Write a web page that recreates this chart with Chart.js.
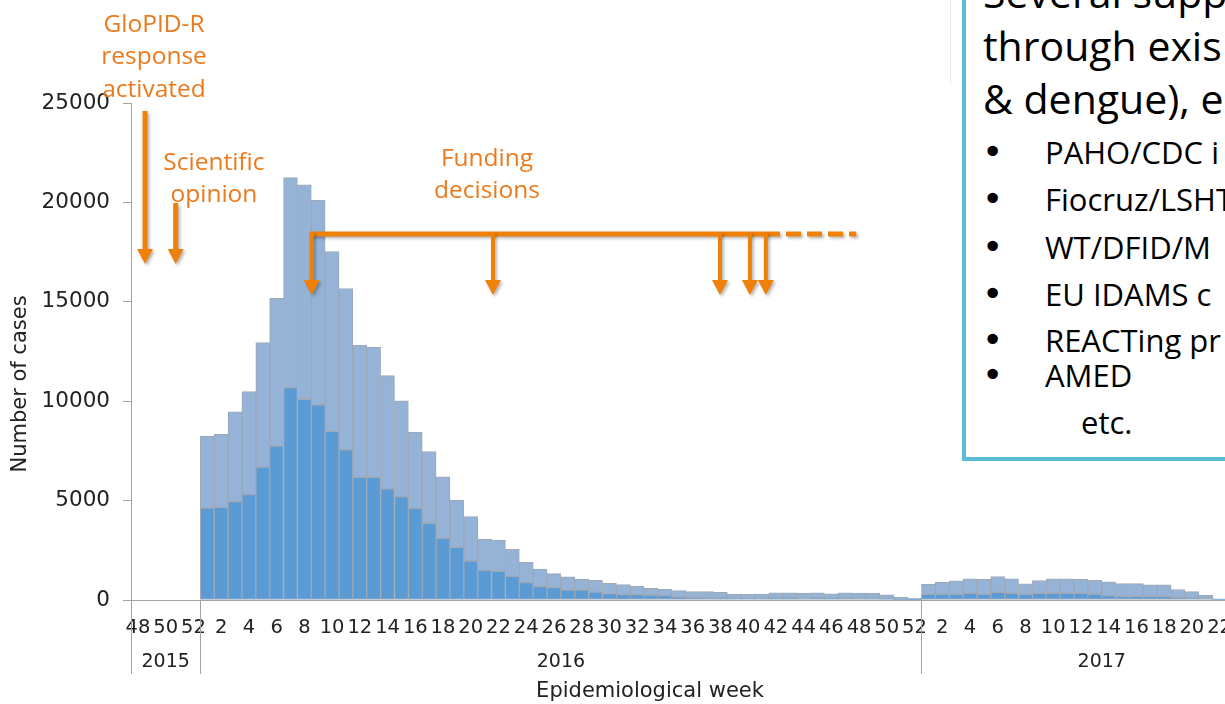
<!DOCTYPE html>
<html>
<head>
<meta charset="utf-8">
<title>Cases by epidemiological week</title>
<script src="https://cdn.jsdelivr.net/npm/chart.js@4.4.1/dist/chart.umd.min.js"></script>
<style>
  html, body { margin: 0; padding: 0; background: #fff; overflow: hidden; }
  #page { position: relative; width: 1225px; height: 704px; overflow: hidden; }
  #cases { position: absolute; left: 0; top: 0; }
  .dots { position: absolute; left: 950px; top: 0; height: 83px; border-left: 1px dotted #c6e0ea; }
  .note { position: absolute; left: 962px; top: -30px; width: 420px; height: 483px;
    border: 4px solid #5bbcd6; background: #fff; font-family: 'Open Sans', sans-serif; color: #000; }
  .note div { position: absolute; white-space: nowrap; line-height: 1; }
  .big { font-size: 41px; }
  .item { font-size: 31px; }
  .note .dot { font-family: 'DejaVu Sans', sans-serif; font-size: 36px; }
</style>
</head>
<body>
<div id="page">
  <canvas id="cases" width="1300" height="704"></canvas>
  <div class="dots"></div>
  <div class="note">
    <div class="big" style="left:17px;top:-2px">Several supp</div>
    <div class="big" style="left:17px;top:51px">through exis</div>
    <div class="big" style="left:17px;top:104px">&amp; dengue), e</div>
    <div class="item dot" style="left:16px;top:160px">•</div>
    <div class="item" style="left:79px;top:163px">PAHO/CDC i</div>
    <div class="item dot" style="left:16px;top:207px">•</div>
    <div class="item" style="left:79px;top:210px">Fiocruz/LSHT</div>
    <div class="item dot" style="left:16px;top:255px">•</div>
    <div class="item" style="left:79px;top:258px">WT/DFID/M</div>
    <div class="item dot" style="left:16px;top:302px">•</div>
    <div class="item" style="left:79px;top:305px">EU IDAMS c</div>
    <div class="item dot" style="left:16px;top:348px">•</div>
    <div class="item" style="left:79px;top:351px">REACTing pr</div>
    <div class="item dot" style="left:16px;top:383px">•</div>
    <div class="item" style="left:79px;top:386px">AMED</div>
    <div class="item" style="left:115px;top:433px">etc.</div>
  </div>
</div>
<script>
var weeks2015 = [48, 49, 50, 51, 52];
var weeks2016 = [1, 2, 3, 4, 5, 6, 7, 8, 9, 10, 11, 12, 13, 14, 15, 16, 17, 18, 19, 20,
  21, 22, 23, 24, 25, 26, 27, 28, 29, 30, 31, 32, 33, 34, 35, 36, 37, 38, 39, 40,
  41, 42, 43, 44, 45, 46, 47, 48, 49, 50, 51, 52];
var weeks2017 = [1, 2, 3, 4, 5, 6, 7, 8, 9, 10, 11, 12, 13, 14, 15, 16, 17, 18, 19, 20,
  21, 22, 23, 24, 25, 26];

// dark blue part of each bar
var confirmed2015 = [null, null, null, null, null];
var confirmed2016 = [4620, 4660, 4950, 5300, 6690, 7740, 10680, 10100, 9820, 8480,
  7560, 6170, 6170, 5590, 5200, 4610, 3860, 3100, 2650, 1960,
  1490, 1440, 1190, 870, 670, 620, 500, 500, 400, 320,
  270, 270, 250, 220, 150, 130, 120, 110, 90, 90,
  100, 110, 110, 100, 110, 80, 100, 100, 100, 60, 30, 20];
var confirmed2017 = [290, 290, 290, 340, 290, 390, 340, 290, 340, 340,
  340, 340, 290, 220, 170, 170, 170, 170, 130, 120,
  100, 30, null, null, null, null];

// light blue part stacked on top
var suspected2015 = [null, null, null, null, null];
var suspected2016 = [3630, 3670, 4510, 5180, 6260, 7430, 10570, 10780, 10280, 9050,
  8110, 6650, 6550, 5700, 4820, 3820, 3610, 3100, 2380, 2230,
  1580, 1570, 1360, 1030, 890, 710, 660, 550, 590, 520,
  500, 430, 340, 320, 320, 290, 300, 270, 210, 200,
  200, 250, 250, 250, 250, 230, 260, 250, 250, 200, 120, 60];
var suspected2017 = [500, 600, 670, 720, 750, 790, 720, 520, 640, 720,
  720, 700, 700, 700, 650, 650, 590, 590, 400, 300,
  150, 30, null, null, null, null];

var yTicks = [0, 5000, 10000, 15000, 20000, 25000];

var years = [
  {label: '2015', weeks: weeks2015},
  {label: '2016', weeks: weeks2016},
  {label: '2017', weeks: weeks2017}
];

// annotations, placed in category index / case count units
var arrows = [
  {at: 0.51, from: 24500, to: 16900, lw: 5},
  {at: 2.72, from: 19870, to: 16900, lw: 5},
  {at: 12.53, from: 18410, to: 15340, lw: 4},
  {at: 25.6, from: 18410, to: 15340, lw: 4},
  {at: 41.97, from: 18410, to: 15340, lw: 4},
  {at: 44.13, from: 18410, to: 15340, lw: 4},
  {at: 45.28, from: 18410, to: 15340, lw: 4}
];
var fundingLine = {from: 12.53, solidTo: 46.3, dashedTo: 51.8, level: 18410};
var notes = [
  {lines: ['GloPID-R', 'response', 'activated'], at: 1.16, levels: [28570, 26940, 25300]},
  {lines: ['Scientific', 'opinion'], at: 5.48, levels: [21630, 20020]},
  {lines: ['Funding', 'decisions'], at: 25.17, levels: [21830, 20220]}
];

var labels = weeks2015.concat(weeks2016, weeks2017).map(String),
  confirmed = confirmed2015.concat(confirmed2016, confirmed2017),
  suspected = suspected2015.concat(suspected2016, suspected2017);

var ORANGE = '#ef8008';
var GREY = '#a3a3a3';
var INK = '#222';
var AXIS_FONT = "'DejaVu Sans', Verdana, sans-serif";

function drawArrow(ctx, px, top, tip, lw) {
  var head = 15, half = 8;
  ctx.fillRect(px - lw / 2, top, lw, tip - head - top + 1);
  ctx.beginPath();
  ctx.moveTo(px - half, tip - head);
  ctx.lineTo(px + half, tip - head);
  ctx.lineTo(px, tip);
  ctx.closePath();
  ctx.fill();
}

var decorations = {
  id: 'decorations',
  afterDraw: function (chart) {
    var ctx = chart.ctx,
      x = chart.scales.x,
      y = chart.scales.y,
      area = chart.chartArea,
      start = 0;

    ctx.save();

    // year groups under the week labels
    ctx.strokeStyle = GREY;
    ctx.lineWidth = 1;
    ctx.fillStyle = INK;
    ctx.font = "19px " + AXIS_FONT;
    ctx.textAlign = 'center';
    ctx.textBaseline = 'middle';
    years.forEach(function (yr) {
      var left = x.getPixelForValue(start - 0.5),
        right = x.getPixelForValue(start + yr.weeks.length - 0.5);
      ctx.beginPath();
      ctx.moveTo(Math.round(left) + 0.5, area.bottom);
      ctx.lineTo(Math.round(left) + 0.5, area.bottom + 74);
      ctx.stroke();
      ctx.fillText(yr.label, (left + right) / 2, area.bottom + 62);
      start += yr.weeks.length;
    });

    // axis titles
    ctx.font = "21px " + AXIS_FONT;
    ctx.fillText('Epidemiological week', 650, 692);
    ctx.save();
    ctx.translate(21, 384);
    ctx.rotate(-Math.PI / 2);
    ctx.fillText('Number of cases', 0, 0);
    ctx.restore();

    // orange annotations
    ctx.fillStyle = ORANGE;
    ctx.strokeStyle = ORANGE;
    ctx.shadowColor = 'rgba(0,0,0,0.28)';
    ctx.shadowBlur = 3;
    ctx.shadowOffsetX = 2;
    ctx.shadowOffsetY = 2;

    var ly = y.getPixelForValue(fundingLine.level),
      lx0 = x.getPixelForValue(fundingLine.from) - 2,
      lx1 = x.getPixelForValue(fundingLine.solidTo),
      lx2 = x.getPixelForValue(fundingLine.dashedTo);
    ctx.fillRect(lx0, ly - 2.5, lx1 - lx0, 5);
    ctx.lineWidth = 5;
    ctx.setLineDash([15, 6]);
    ctx.lineDashOffset = 15;
    ctx.beginPath();
    ctx.moveTo(lx1, ly);
    ctx.lineTo(lx2, ly);
    ctx.stroke();
    ctx.setLineDash([]);

    arrows.forEach(function (a) {
      drawArrow(ctx, x.getPixelForValue(a.at), y.getPixelForValue(a.from) - 2, y.getPixelForValue(a.to), a.lw);
    });

    ctx.shadowColor = 'transparent';
    ctx.fillStyle = '#eb7a1c';
    ctx.font = "24.5px 'Open Sans', sans-serif";
    ctx.textBaseline = 'alphabetic';
    notes.forEach(function (n) {
      n.lines.forEach(function (line, i) {
        ctx.fillText(line, x.getPixelForValue(n.at), y.getPixelForValue(n.levels[i]));
      });
    });

    ctx.restore();
  }
};

var chart = new Chart(document.getElementById('cases'), {
  type: 'bar',
  data: {
    labels: labels,
    datasets: [
      {
        label: 'Confirmed',
        data: confirmed,
        backgroundColor: '#5b9bd5',
        borderColor: '#9fa8b3',
        borderWidth: 1,
        borderSkipped: false
      },
      {
        label: 'Suspected',
        data: suspected,
        backgroundColor: '#95b3d7',
        borderColor: '#9fa8b3',
        borderWidth: 1,
        borderSkipped: false
      }
    ]
  },
  options: {
    responsive: false,
    animation: false,
    layout: {
      padding: {left: 0, top: 103, right: 18, bottom: 0}
    },
    plugins: {
      legend: {display: false},
      tooltip: {enabled: false}
    },
    datasets: {
      bar: {categoryPercentage: 1, barPercentage: 1}
    },
    scales: {
      x: {
        stacked: true,
        grid: {display: false},
        border: {display: true, color: GREY},
        ticks: {
          autoSkip: false,
          maxRotation: 0,
          padding: 8,
          color: INK,
          font: {family: AXIS_FONT, size: 19.5},
          callback: function (value) {
            var week = Number(this.getLabelForValue(value));
            return week % 2 === 0 ? String(week) : '';
          }
        },
        afterFit: function (scale) {
          scale.height = 104;
        }
      },
      y: {
        stacked: true,
        min: 0,
        max: 25000,
        grid: {display: true, drawOnChartArea: false, drawTicks: true, tickLength: 8, color: GREY},
        border: {display: true, color: GREY},
        afterBuildTicks: function (scale) {
          scale.ticks = yTicks.map(function (v) { return {value: v}; });
        },
        ticks: {
          padding: 13,
          color: INK,
          font: {family: AXIS_FONT, size: 21.5},
          callback: function (value) {
            return String(value);
          }
        },
        afterFit: function (scale) {
          scale.width = 131;
        }
      }
    }
  },
  plugins: [decorations]
});
</script>
</body>
</html>
